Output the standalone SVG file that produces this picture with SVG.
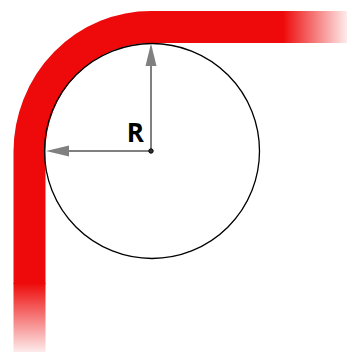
<svg xmlns="http://www.w3.org/2000/svg" width="347" height="352" viewBox="0 0 347 352">
<style>
.band{fill:none;stroke-width:32}
.arr{stroke:#808080;stroke-width:2;fill:none}
.head{fill:#808080}
</style>
<defs>
<linearGradient id="fh" gradientUnits="userSpaceOnUse" x1="283" y1="0" x2="347" y2="0">
<stop offset="0" stop-color="#ee0a0a" stop-opacity="1"/>
<stop offset="1" stop-color="#ee0a0a" stop-opacity="0.08"/>
</linearGradient>
<linearGradient id="fv" gradientUnits="userSpaceOnUse" x1="0" y1="283" x2="0" y2="352">
<stop offset="0" stop-color="#ee0a0a" stop-opacity="1"/>
<stop offset="1" stop-color="#ee0a0a" stop-opacity="0.08"/>
</linearGradient>
</defs>
<g id="bend">
<path class="band" stroke="#ee0a0a" d="M29.5 284 V151 A121.5 125 0 0 1 151 27 H284"/>
<rect x="284" y="11" width="63" height="32" fill="url(#fh)"/>
<rect x="13.5" y="283" width="32" height="69" fill="url(#fv)"/>
</g>
<g id="circle">
<circle cx="152" cy="151" r="107.5" fill="none" stroke="#000" stroke-width="1.3"/>
</g>
<g id="connectors">
<line class="arr" x1="151" y1="151" x2="151" y2="62"/>
<polygon class="head" points="151,43.5 145.5,66 156.5,66"/>
<line class="arr" x1="151" y1="151" x2="66" y2="151"/>
<polygon class="head" points="46,151 69,145.5 69,156.5"/>
</g>
<g id="center">
<circle cx="151" cy="151" r="2.2" fill="#333" stroke="#000" stroke-width="1"/>
</g>
<g id="label">
<text x="144" y="142" text-anchor="end" font-family="'Open Sans', 'Liberation Sans', sans-serif" font-weight="bold" font-size="26" fill="#000">R</text>
</g>
</svg>
